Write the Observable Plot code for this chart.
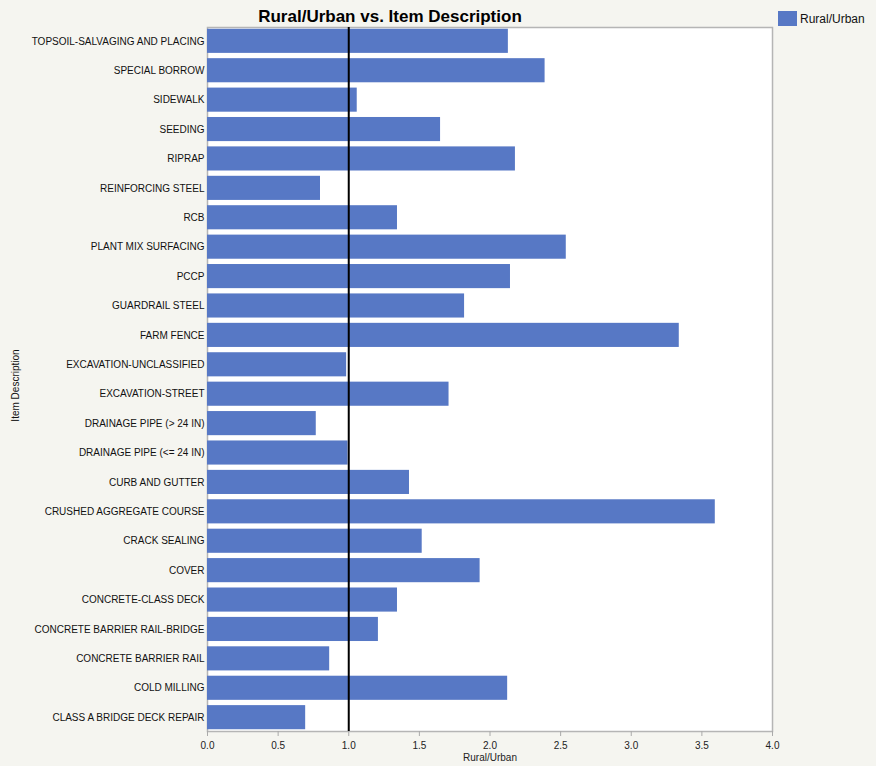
<!DOCTYPE html>
<html>
<head>
<meta charset="utf-8">
<script src="https://cdn.jsdelivr.net/npm/d3@7"></script>
<script src="https://cdn.jsdelivr.net/npm/@observablehq/plot@0.6"></script>
<style>
  html, body { margin: 0; padding: 0; background: #f5f5f0; }
  #wrap { position: relative; width: 876px; height: 766px; background: #f5f5f0; font-family: "Liberation Sans", Arial, sans-serif; }
  #title { position: absolute; left: 0; width: 780px; top: 6px; text-align: center; font-weight: bold; font-size: 17px; color: #000; line-height: 22px; }
  #legend { position: absolute; left: 778px; top: 11px; display: flex; align-items: center; font-size: 12px; color: #111; }
  #legend .sw { width: 19px; height: 15px; background: #5778c5; margin-right: 3px; }
  #chart { position: absolute; left: 0; top: 0; }
</style>
</head>
<body>
<div id="wrap">
  <div id="chart"></div>
  <div id="title">Rural/Urban vs. Item Description</div>
  <div id="legend"><div class="sw"></div><span>Rural/Urban</span></div>
</div>
<script>
const items = [
  "TOPSOIL-SALVAGING AND PLACING",
  "SPECIAL BORROW",
  "SIDEWALK",
  "SEEDING",
  "RIPRAP",
  "REINFORCING STEEL",
  "RCB",
  "PLANT MIX SURFACING",
  "PCCP",
  "GUARDRAIL STEEL",
  "FARM FENCE",
  "EXCAVATION-UNCLASSIFIED",
  "EXCAVATION-STREET",
  "DRAINAGE PIPE (> 24 IN)",
  "DRAINAGE PIPE (<= 24 IN)",
  "CURB AND GUTTER",
  "CRUSHED AGGREGATE COURSE",
  "CRACK SEALING",
  "COVER",
  "CONCRETE-CLASS DECK",
  "CONCRETE BARRIER RAIL-BRIDGE",
  "CONCRETE BARRIER RAIL",
  "COLD MILLING",
  "CLASS A BRIDGE DECK REPAIR"
];
const ratios = [
  2.13, 2.39, 1.06, 1.65, 2.18, 0.80, 1.345, 2.54, 2.145, 1.82,
  3.34, 0.985, 1.71, 0.77, 0.995, 1.43, 3.595, 1.52, 1.93, 1.345,
  1.21, 0.865, 2.125, 0.695
];
const xTicks = [0, 0.5, 1, 1.5, 2, 2.5, 3, 3.5, 4];
const referenceValue = [1];

const data = items.map((d, i) => ({item: d, ratio: ratios[i]}));

const chart = Plot.plot({
  width: 876,
  height: 766,
  marginLeft: 207,
  marginRight: 104,
  marginTop: 27,
  marginBottom: 35,
  style: {background: "transparent", fontFamily: "'Liberation Sans', Arial, sans-serif", fontSize: "10px", color: "#222"},
  x: {domain: [0, 4], ticks: xTicks, tickFormat: d3.format(".1f"), label: null},
  y: {domain: items, paddingInner: 0.18, paddingOuter: 0.06, round: false, label: null},
  marks: [
    Plot.frame({fill: "white", stroke: "#b5b5b5", strokeWidth: 1.5}),
    Plot.barX(data, {x: "ratio", y: "item", fill: "#5778c5"}),
    Plot.ruleX(referenceValue, {stroke: "black", strokeWidth: 2}),
    Plot.axisX({ticks: xTicks, tickFormat: d3.format(".1f"), tickSize: 5, stroke: "#aaa", tickPadding: 5, fontSize: 10, fill: "#222", label: null}),
    Plot.axisY({tickSize: 0, tickPadding: 3, fontSize: 10, fill: "#111", label: null}),
    Plot.text(["Rural/Urban"], {frameAnchor: "bottom", dy: 29, fontSize: 10, fill: "#222"}),
    Plot.text(["Item Description"], {frameAnchor: "left", textAnchor: "middle", dx: -192, dy: 6, rotate: -90, fontSize: 10, fill: "#111"})
  ]
});
document.getElementById("chart").appendChild(chart);
</script>
</body>
</html>
